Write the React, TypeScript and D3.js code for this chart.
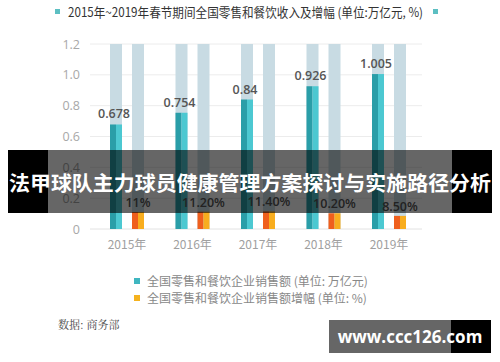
import React from "react";
import * as d3 from "d3";

const years = ["2015年", "2016年", "2017年", "2018年", "2019年"];
const sales = [0.678, 0.754, 0.84, 0.926, 1.005];
const salesLabels = ["0.678", "0.754", "0.84", "0.926", "1.005"];
const growth = [11, 11.2, 11.4, 10.2, 8.5];
const growthLabels = ["11%", "11.20%", "11.40%", "10.20%", "8.50%"];
const yTicks = [0, 0.2, 0.4, 0.6, 0.8, 1.0, 1.2];
const yTickLabels = ["0", "0.2", "0.4", "0.6", "0.8", "1.0", "1.2"];
const legendItems = ["全国零售和餐饮企业销售额 (单位: 万亿元)", "全国零售和餐饮企业销售额增幅 (单位: %)"];
const title = "2015年~2019年春节期间全国零售和餐饮收入及增幅 (单位:万亿元, %)";
const banner = "法甲球队主力球员健康管理方案探讨与实施路径分析";

const W = 500, H = 362;

export default function App() {
  const y = d3.scaleLinear().domain([0, 1.2]).range([229, 44]);
  const x0 = d3.scaleBand<string>().domain(years).range([94.25, 421.75]).paddingInner(0).paddingOuter(0);
  const x1 = d3.scaleBand<string>().domain(["amt", "pct"]).range([0, 34]).paddingInner(2 - 34 / 22).paddingOuter(0);
  const bw = x1.bandwidth();
  const groupStart = (yr: string) => (x0(yr) as number) + x0.bandwidth() / 2 - 17;
  const sans = "'Noto Sans CJK SC', 'Noto Sans', sans-serif";
  const num = "'Open Sans', 'Noto Sans', sans-serif";

  return (
    <svg width={W} height={H} style={{ position: "absolute", left: 0, top: 0, background: "#fff" }} xmlns="http://www.w3.org/2000/svg">
      <rect x={0} y={0} width={W} height={H} fill="#fff" />
      {/* title */}
      <rect x={55} y={9} width={5} height={5} fill="#5cbfc2" />
      <text x={68} y={16.5} fontFamily={sans} fontSize={12.6} fill="#333" textLength={355} lengthAdjust="spacingAndGlyphs">{title}</text>
      <rect x={433} y={9} width={5} height={5} fill="#5cbfc2" />

      {/* grid */}
      {yTicks.map((t, i) => (
        <g key={i}>
          <line x1={90} x2={422} y1={y(t)} y2={y(t)} stroke={i === 0 ? "#e2e2e2" : "#ececec"} strokeWidth={1} />
          <text x={80} y={y(t) + 4.5} textAnchor="end" fontFamily={num} fontSize={12.5} fill="#a8a8a8">{yTickLabels[i]}</text>
        </g>
      ))}

      {/* bars */}
      {years.map((yr, i) => {
        const gs = groupStart(yr);
        const xa = gs + (x1("amt") as number);
        const xp = gs + (x1("pct") as number);
        const top = y(1.2), base = y(0);
        const ya = y(sales[i]);
        const yp = y(growth[i] / 100);
        return (
          <g key={yr}>
            <rect x={xa} y={top} width={bw} height={base - top} fill="#c8dbe3" />
            <rect x={xp} y={top} width={bw} height={base - top} fill="#c8dbe3" />
            <rect x={xa} y={ya} width={bw / 2} height={base - ya} fill="#2a9ea8" />
            <rect x={xa + bw / 2} y={ya} width={bw / 2} height={base - ya} fill="#4cc8d1" />
            <rect x={xp} y={yp} width={bw / 2} height={base - yp} fill="#ef5f1d" />
            <rect x={xp + bw / 2} y={yp} width={bw / 2} height={base - yp} fill="#f8ad1e" />
            <text x={xa + bw / 2 - 2} y={ya - 6} textAnchor="middle" fontFamily={num} fontWeight={600} fontSize={12.5} fill="#555">{salesLabels[i]}</text>
            <text x={xp + bw / 2} y={yp - 5} textAnchor="middle" fontFamily={num} fontWeight={600} fontSize={12.5} fill="#555">{growthLabels[i]}</text>
            <text x={gs + 17} y={249} textAnchor="middle" fontFamily={sans} fontSize={12} fill="#a0a0a0">{yr}</text>
          </g>
        );
      })}

      {/* legend */}
      <rect x={134} y={278} width={6} height={6} fill="#3fb6c0" />
      <text x={147} y={285.5} fontFamily={sans} fontSize={12} fill="#888">{legendItems[0]}</text>
      <rect x={134} y={295} width={6} height={6} fill="#f5b21e" />
      <text x={147} y={302.5} fontFamily={sans} fontSize={12} fill="#888">{legendItems[1]}</text>

      {/* source */}
      <text x={58} y={329} fontFamily="'Noto Serif CJK SC', 'Noto Sans CJK SC', serif" fontSize={11} fill="#444">数据: 商务部</text>

      {/* banner overlay */}
      <rect x={8} y={150} width={40} height={63} fill="#000" />
      <rect x={48} y={150} width={404} height={63} fill="rgba(0,0,0,0.6)" />
      <rect x={452} y={150} width={40} height={63} fill="#000" />
      <text x={250} y={191} textAnchor="middle" fontFamily={sans} fontWeight={700} fontSize={20.5} fill="#fff" textLength={482} lengthAdjust="spacingAndGlyphs">{banner}</text>

      {/* watermark */}
      <rect x={329} y={320} width={122} height={33} fill="#666" />
      <rect x={451} y={320} width={40} height={33} fill="#000" />
      <text x={410} y={342.5} textAnchor="middle" fontFamily={num} fontWeight={700} fontSize={17} fill="#fff">www.ccc126.com</text>
    </svg>
  );
}
